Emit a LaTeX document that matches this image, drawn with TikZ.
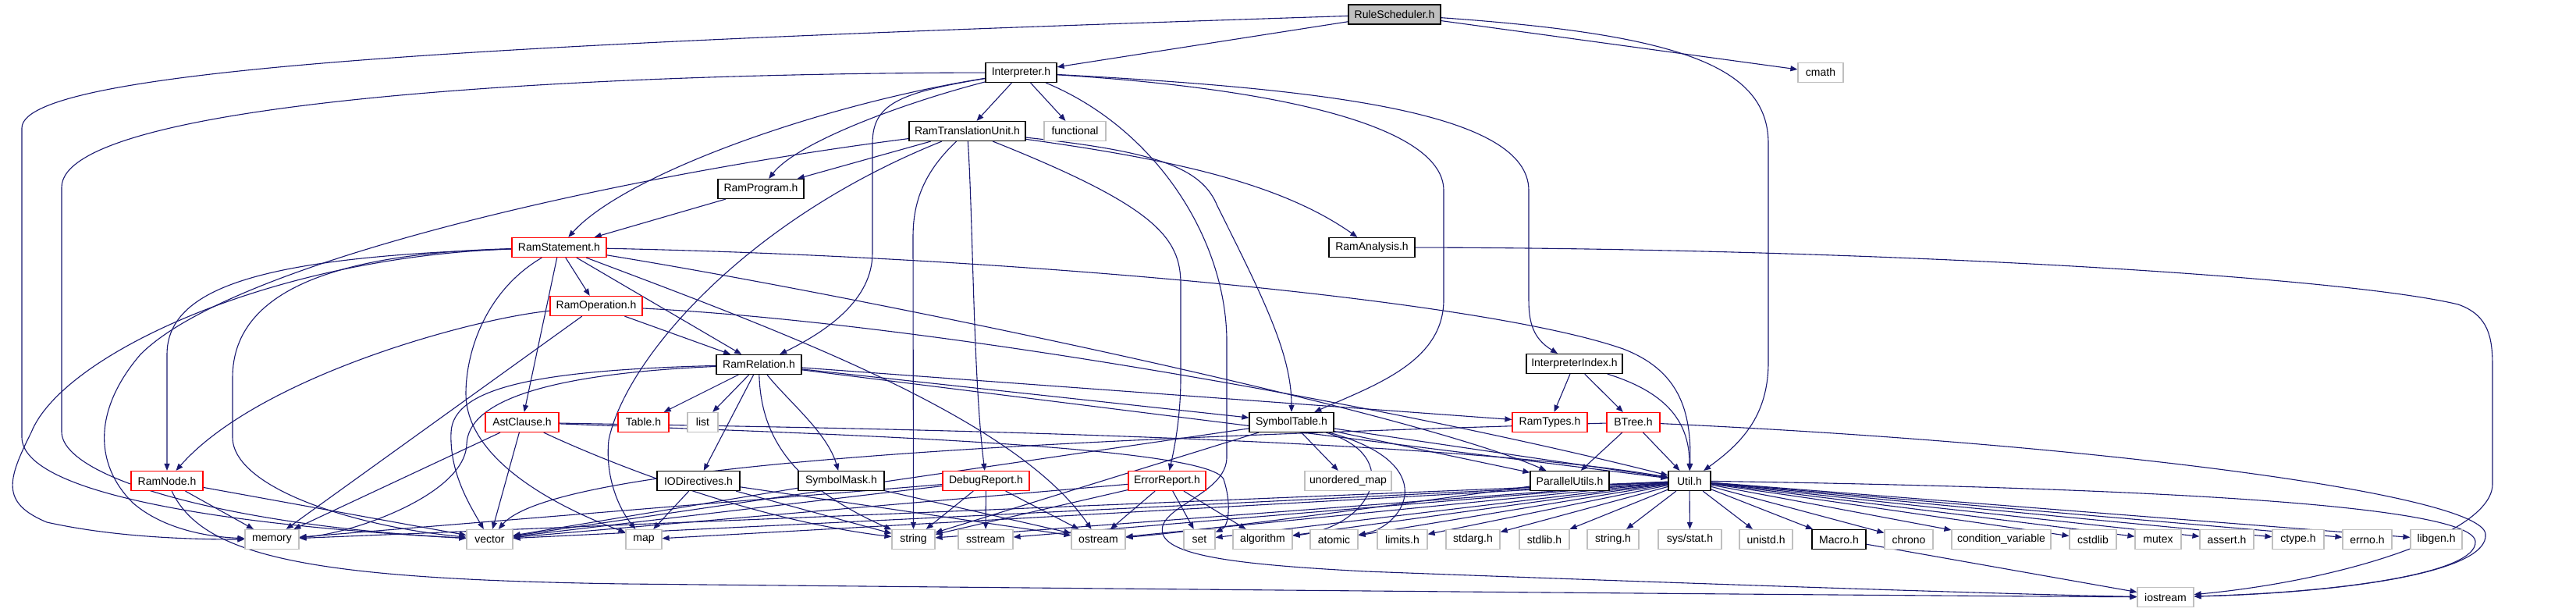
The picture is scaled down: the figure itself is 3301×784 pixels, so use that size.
\documentclass[tikz,border=0pt]{standalone}
\usepackage{fontspec}
\setmainfont{Liberation Sans}
\usetikzlibrary{arrows.meta,backgrounds}
\definecolor{edgeblue}{HTML}{191970}
\definecolor{sysgray}{HTML}{BFBFBF}

\begin{document}
\begin{tikzpicture}[x=1pt, y=1pt,
  header/.style={rectangle, draw=black, fill=white, line width=1.2pt, minimum width=#1, minimum height=25pt, inner sep=0pt, font=\fontsize{14}{16}\selectfont},
  trunc/.style={header=#1, draw=red},
  sysheader/.style={header=#1, draw=sysgray},
  rootheader/.style={header=#1, fill=sysgray},
  incl/.style={-{Triangle[length=9pt, width=7pt]}, draw=edgeblue, line width=1.1pt}
]
\useasboundingbox (0,0) rectangle (3301,784);

\node[rootheader=118] (rs) at (1787,765.5) {RuleScheduler.h};
\node[header=91] (interp) at (1308.5,691) {Interpreter.h};
\node[sysheader=58] (cmath) at (2333,691) {cmath};
\node[header=149] (rtu) at (1239.5,616) {RamTranslationUnit.h};
\node[sysheader=79] (functional) at (1377.5,616) {functional};
\node[header=110] (ramprogram) at (975,542) {RamProgram.h};
\node[trunc=121] (ramstatement) at (716.5,467) {RamStatement.h};
\node[header=110] (ramanalysis) at (1758,467) {RamAnalysis.h};
\node[trunc=118] (ramoperation) at (764,392) {RamOperation.h};
\node[header=109] (ramrelation) at (972.5,317) {RamRelation.h};
\node[header=123] (interpindex) at (2017.5,318) {InterpreterIndex.h};
\node[trunc=94] (astclause) at (669,243) {AstClause.h};
\node[trunc=65] (table) at (824.5,243) {Table.h};
\node[sysheader=39] (list) at (900.5,243) {list};
\node[header=108] (symboltable) at (1655,243) {SymbolTable.h};
\node[trunc=96] (ramtypes) at (1986,243) {RamTypes.h};
\node[trunc=68] (btree) at (2093,243) {BTree.h};
\node[trunc=92] (ramnode) at (214,168) {RamNode.h};
\node[header=106] (iodirectives) at (895,168) {IODirectives.h};
\node[header=110] (symbolmask) at (1078,168) {SymbolMask.h};
\node[trunc=111] (debugreport) at (1263.5,168) {DebugReport.h};
\node[trunc=99] (errorreport) at (1495.5,168) {ErrorReport.h};
\node[sysheader=111] (unorderedmap) at (1727.5,168) {unordered\_map};
\node[header=101] (parallelutils) at (2011.5,168) {ParallelUtils.h};
\node[header=54] (util) at (2165,168) {Util.h};
\node[sysheader=69] (memory) at (348.5,93) {memory};
\node[sysheader=59] (vector) at (627.5,93) {vector};
\node[sysheader=46] (map) at (825,93) {map};
\node[sysheader=55] (string) at (1170.5,93) {string};
\node[sysheader=70] (sstream) at (1263,93) {sstream};
\node[sysheader=69] (ostream) at (1407.5,93) {ostream};
\node[sysheader=40] (set) at (1537,93) {set};
\node[sysheader=76] (algorithm) at (1618,93) {algorithm};
\node[sysheader=61] (atomic) at (1709.5,93) {atomic};
\node[sysheader=64] (limits) at (1797,93) {limits.h};
\node[sysheader=69] (stdarg) at (1887.5,93) {stdarg.h};
\node[sysheader=64] (stdlib) at (1979,93) {stdlib.h};
\node[sysheader=66] (stringh) at (2067,93) {string.h};
\node[sysheader=81] (sysstat) at (2165.5,93) {sys/stat.h};
\node[sysheader=68] (unistd) at (2263,93) {unistd.h};
\node[header=69] (macro) at (2356.5,93) {Macro.h};
\node[sysheader=62] (chrono) at (2446,93) {chrono};
\node[sysheader=127] (condvar) at (2564.5,93) {condition\_variable};
\node[sysheader=60] (cstdlib) at (2682,93) {cstdlib};
\node[sysheader=59] (mutex) at (2765.5,93) {mutex};
\node[sysheader=69] (asserth) at (2853.5,93) {assert.h};
\node[sysheader=66] (ctypeh) at (2945,93) {ctype.h};
\node[sysheader=63] (errnoh) at (3033.5,93) {errno.h};
\node[sysheader=66] (libgenh) at (3122,93) {libgen.h};
\node[sysheader=72] (iostream) at (2775,19) {iostream};

\begin{scope}[on background layer]
% RuleScheduler.h
\draw[incl] (rs) -- (interp);
\draw[incl] (rs) -- (cmath);
\draw[incl] (rs) .. controls (2150,740) and (2266,700) .. (2266,600) -- (2266,320) .. controls (2266,250) and (2230,215) .. (util);
\draw[incl] (rs) .. controls (700,730) and (28,700) .. (28,620) -- (28,224) .. controls (28,150) and (300,110) .. (vector);

% Interpreter.h
\draw[incl] (interp) -- (rtu);
\draw[incl] (interp) -- (functional);
\draw[incl] (interp) .. controls (1150,650) and (1020,600) .. (ramprogram);
\draw[incl] (interp) .. controls (1050,650) and (800,560) .. (ramstatement);
\draw[incl] (interp) .. controls (1150,665) and (1118,650) .. (1118,600) -- (1118,460) .. controls (1118,400) and (1060,360) .. (ramrelation);
\draw[incl] (interp) .. controls (1650,670) and (1850,620) .. (1850,540) -- (1850,400) .. controls (1850,320) and (1760,290) .. (symboltable);
\draw[incl] (interp) .. controls (1700,670) and (1959,640) .. (1959,540) -- (1959,400) .. controls (1959,370) and (1965,350) .. (interpindex);
\draw[incl] (interp) .. controls (700,690) and (79,650) .. (79,544) -- (79,231) .. controls (79,170) and (300,110) .. (vector);
\draw[incl] (interp) .. controls (1480,620) and (1570,480) .. (1572,350) -- (1572,200) .. controls (1574,150) and (1480,135) .. (1490,100) .. controls (1500,70) and (1600,60) .. (1750,52) .. controls (2200,35) and (2600,22) .. (iostream);

% RamTranslationUnit.h
\draw[incl] (rtu) -- (ramprogram);
\draw[incl] (rtu) .. controls (800,560) and (300,450) .. (180,330) .. controls (120,260) and (120,190) .. (170,140) .. controls (210,105) and (270,96) .. (memory);
\draw[incl] (rtu) .. controls (950,500) and (800,320) .. (780,220) .. controls (775,170) and (795,130) .. (map);
\draw[incl] (rtu) .. controls (1180,560) and (1170,520) .. (1170,480) -- (string);
\draw[incl] (rtu) .. controls (1247,500) and (1247,300) .. (debugreport);
\draw[incl] (rtu) .. controls (1480,520) and (1513,480) .. (1513,420) -- (1513,300) .. controls (1513,250) and (1505,210) .. (errorreport);
\draw[incl] (rtu) .. controls (1480,590) and (1540,570) .. (1560,520) .. controls (1620,400) and (1655,330) .. (symboltable);
\draw[incl] (rtu) .. controls (1500,580) and (1640,550) .. (ramanalysis);

\draw[incl] (ramprogram) -- (ramstatement);
\draw[incl] (ramanalysis) .. controls (2400,466) and (3000,430) .. (3150,394) .. controls (3190,380) and (3194,350) .. (3194,314) -- (3194,164) .. controls (3194,100) and (3000,40) .. (iostream);

% RamStatement.h
\draw[incl] (ramstatement) -- (ramoperation);
\draw[incl] (ramstatement) -- (ramrelation);
\draw[incl] (ramstatement) -- (astclause);
\draw[incl] (ramstatement) .. controls (350,455) and (214,420) .. (214,330) -- (ramnode);
\draw[incl] (ramstatement) .. controls (350,455) and (80,330) .. (40,230) .. controls (10,170) and (0,140) .. (60,115) .. controls (150,95) and (250,93) .. (memory);
\draw[incl] (ramstatement) .. controls (450,460) and (298,420) .. (298,300) -- (298,224) .. controls (298,160) and (450,110) .. (vector);
\draw[incl] (ramstatement) .. controls (620,410) and (597,330) .. (597,280) .. controls (597,200) and (700,140) .. (map);
\draw[incl] (ramstatement) .. controls (1000,360) and (1300,250) .. (ostream);
\draw[incl] (ramstatement) .. controls (1300,455) and (1900,400) .. (2080,337) .. controls (2150,310) and (2168,260) .. (util);
\draw[incl] (ramstatement) .. controls (1100,405) and (1800,260) .. (parallelutils);

% RamOperation.h
\draw[incl] (ramoperation) -- (ramrelation);
\draw[incl] (ramoperation) -- (memory);
\draw[incl] (ramoperation) .. controls (600,375) and (330,300) .. (ramnode);
\draw[incl] (ramoperation) .. controls (1200,370) and (1800,260) .. (util);

% RamRelation.h
\draw[incl] (ramrelation) -- (table);
\draw[incl] (ramrelation) -- (list);
\draw[incl] (ramrelation) -- (iodirectives);
\draw[incl] (ramrelation) .. controls (1010,270) and (1060,230) .. (symbolmask);
\draw[incl] (ramrelation) .. controls (975,220) and (1020,160) .. (string);
\draw[incl] (ramrelation) .. controls (700,310) and (580,290) .. (578,230) .. controls (576,180) and (600,140) .. (vector);
\draw[incl] (ramrelation) .. controls (700,305) and (600,270) .. (598,215) .. controls (596,150) and (450,100) .. (memory);
\draw[incl] (ramrelation) -- (symboltable);
\draw[incl] (ramrelation) -- (ramtypes);
\draw[incl] (ramrelation) -- (util);

% AstClause.h
\draw[incl] (astclause) -- (memory);
\draw[incl] (astclause) -- (vector);
\draw[incl] (astclause) .. controls (760,200) and (950,120) .. (string);
\draw[incl] (astclause) .. controls (900,238) and (1800,230) .. (util);
\draw[incl] (astclause) .. controls (1000,230) and (1550,215) .. (1568,170) .. controls (1578,140) and (1575,110) .. (set);

% RamNode.h
\draw[incl] (ramnode) -- (memory);
\draw[incl] (ramnode) -- (vector);
\draw[incl] (ramnode) .. controls (260,70) and (400,42) .. (800,36) .. controls (1600,28) and (2300,22) .. (iostream);

\draw[incl] (iodirectives) -- (map);
\draw[incl] (iodirectives) -- (string);
\draw[incl] (iodirectives) -- (ostream);
\draw[incl] (symbolmask) -- (vector);
\draw[incl] (symbolmask) -- (ostream);

% DebugReport.h, ErrorReport.h
\draw[incl] (debugreport) -- (vector);
\draw[incl] (debugreport) -- (memory);
\draw[incl] (debugreport) -- (string);
\draw[incl] (debugreport) -- (sstream);
\draw[incl] (debugreport) -- (ostream);
\draw[incl] (errorreport) -- (vector);
\draw[incl] (errorreport) -- (string);
\draw[incl] (errorreport) -- (ostream);
\draw[incl] (errorreport) -- (set);
\draw[incl] (errorreport) -- (algorithm);

% SymbolTable.h
\draw[incl] (symboltable) -- (unorderedmap);
\draw[incl] (symboltable) -- (parallelutils);
\draw[incl] (symboltable) -- (util);
\draw[incl] (symboltable) -- (vector);
\draw[incl] (symboltable) -- (string);
\draw[incl] (symboltable) .. controls (1800,200) and (1760,110) .. (algorithm);
\draw[incl] (symboltable) .. controls (1850,190) and (1800,110) .. (atomic);

% InterpreterIndex.h, BTree.h, ParallelUtils.h
\draw[incl] (interpindex) -- (ramtypes);
\draw[incl] (interpindex) -- (btree);
\draw[incl] (interpindex) .. controls (2140,280) and (2165,240) .. (util);
\draw[incl] (btree) -- (parallelutils);
\draw[incl] (btree) -- (util);
\draw[incl] (btree) .. controls (1500,225) and (720,200) .. (vector);
\draw[incl] (btree) .. controls (2700,215) and (3180,150) .. (3185,100) .. controls (3190,50) and (3000,25) .. (iostream);
\draw[incl] (parallelutils) .. controls (1700,125) and (1500,100) .. (ostream);

% Util.h
\draw[incl] (util) -- (memory);
\draw[incl] (util) -- (vector);
\draw[incl] (util) -- (map);
\draw[incl] (util) -- (string);
\draw[incl] (util) -- (sstream);
\draw[incl] (util) -- (ostream);
\draw[incl] (util) -- (set);
\draw[incl] (util) -- (algorithm);
\draw[incl] (util) -- (atomic);
\draw[incl] (util) -- (limits);
\draw[incl] (util) -- (stdarg);
\draw[incl] (util) -- (stdlib);
\draw[incl] (util) -- (stringh);
\draw[incl] (util) -- (sysstat);
\draw[incl] (util) -- (unistd);
\draw[incl] (util) -- (macro);
\draw[incl] (util) -- (chrono);
\draw[incl] (util) -- (condvar);
\draw[incl] (util) -- (cstdlib);
\draw[incl] (util) -- (mutex);
\draw[incl] (util) -- (asserth);
\draw[incl] (util) -- (ctypeh);
\draw[incl] (util) -- (errnoh);
\draw[incl] (util) -- (libgenh);
\draw[incl] (util) .. controls (2700,160) and (3170,140) .. (3172,90) .. controls (3174,50) and (3000,25) .. (iostream);
\draw[incl] (macro) -- (iostream);
\end{scope}
\end{tikzpicture}
\end{document}
